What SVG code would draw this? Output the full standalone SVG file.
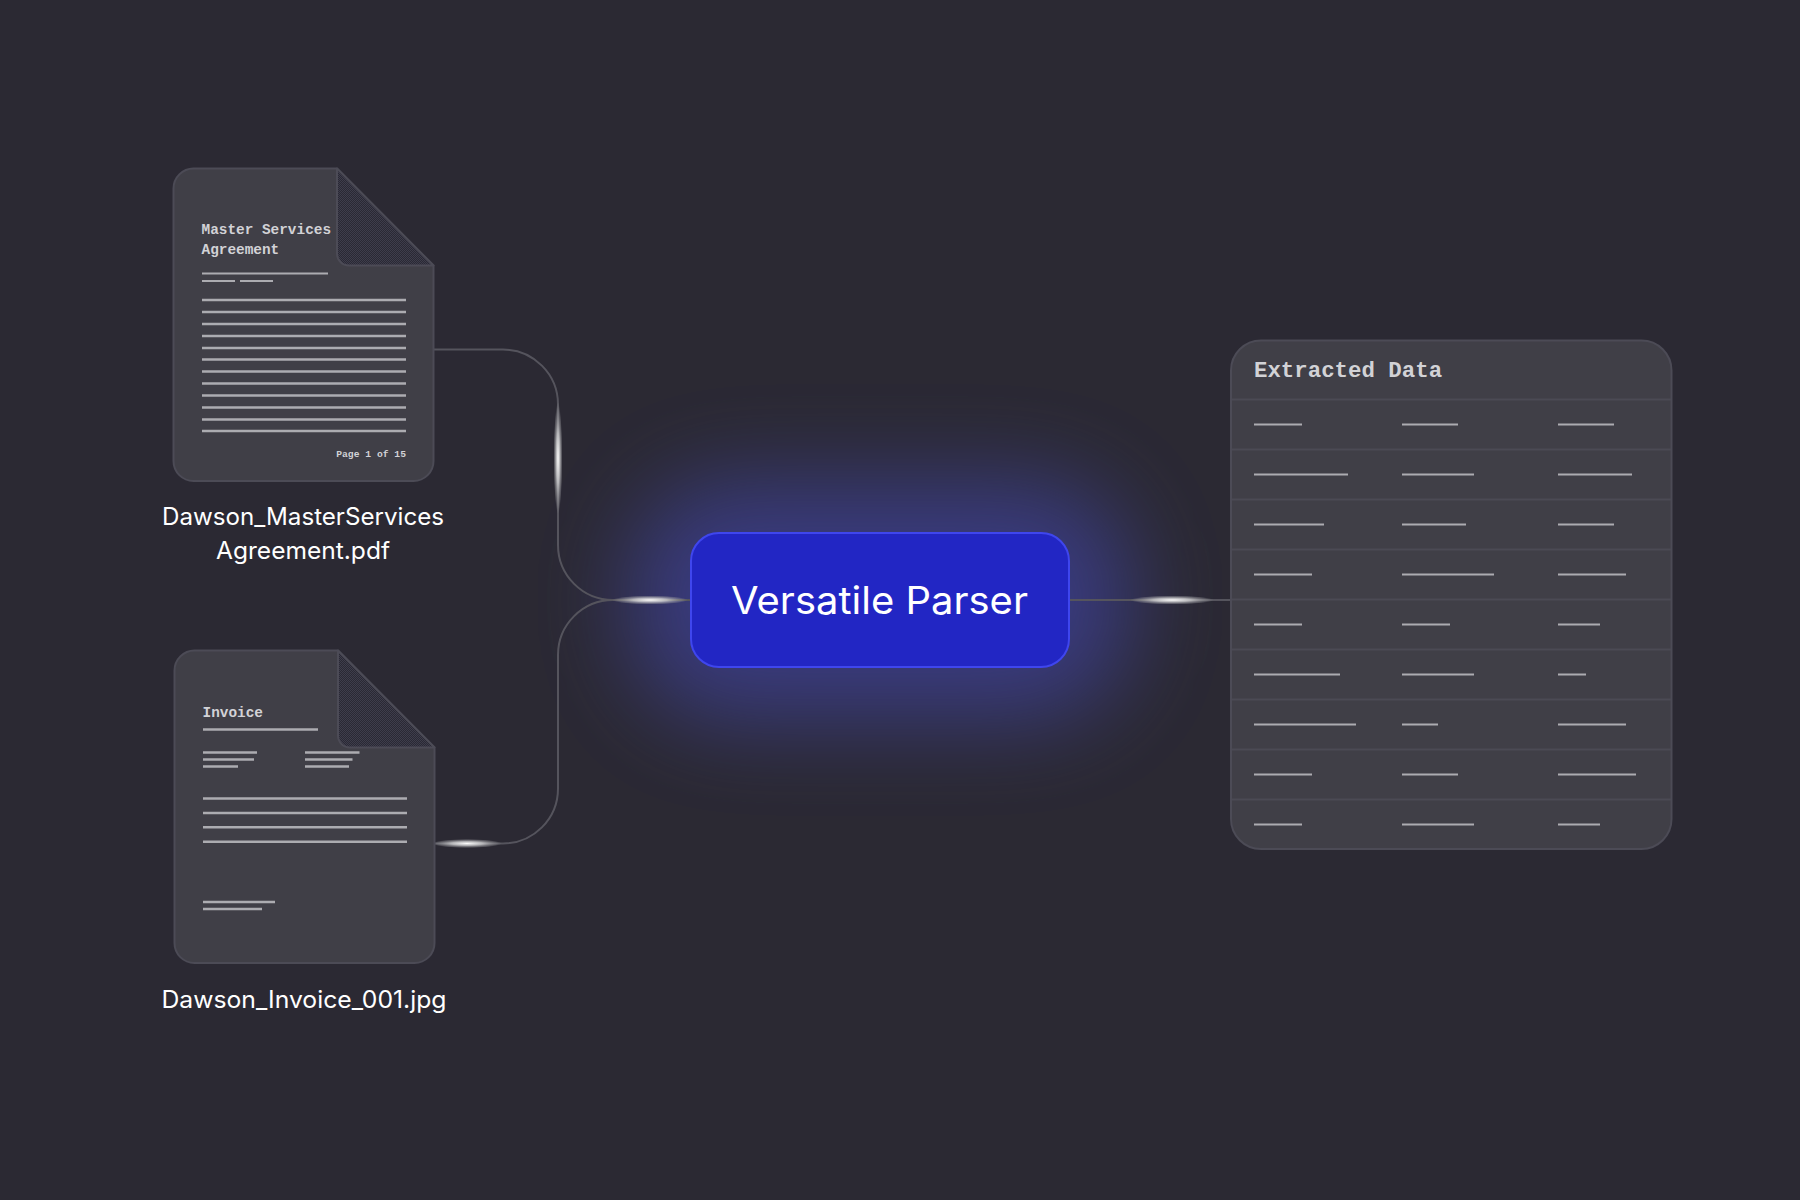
<svg xmlns="http://www.w3.org/2000/svg" width="1800" height="1200" viewBox="0 0 1800 1200">
<style>
.card{fill:#403f47;stroke:#4c4b56;stroke-width:2}
.fold{fill:url(#dither);stroke:#4c4b56;stroke-width:2;stroke-linejoin:round}
.ln{stroke:#acacb1;stroke-width:2.4;fill:none}
.tl{stroke:#acacb1;stroke-width:2;fill:none}
.row{stroke:#4b4a54;stroke-width:2;fill:none}
.mono{font-family:"Liberation Mono","DejaVu Sans Mono",monospace;fill:#d2d2d6;font-weight:700}
.lab{font-family:Inter,"Liberation Sans",sans-serif;fill:#fff;font-size:24px;text-anchor:middle}
.conn{fill:none;stroke:#55545d;stroke-width:2}
</style>
<defs>
<pattern id="dither" width="2" height="2" patternUnits="userSpaceOnUse">
<rect width="2" height="2" fill="#2a2934"/>
<rect width="1" height="1" fill="#3e3d4c"/>
<rect x="1" y="1" width="1" height="1" fill="#3e3d4c"/>
</pattern>
<radialGradient id="spark">
<stop offset="0" stop-color="#fff" stop-opacity=".98"/>
<stop offset=".45" stop-color="#d0d0d2" stop-opacity=".8"/>
<stop offset=".85" stop-color="#9a9a9e" stop-opacity=".35"/>
<stop offset="1" stop-color="#8a8a90" stop-opacity="0"/>
</radialGradient>
<filter id="blur" x="-50%" y="-100%" width="200%" height="300%"><feGaussianBlur stdDeviation="46"/></filter>
</defs>
<rect width="1800" height="1200" fill="#2b2933"/>

<g id="parser-glow"><rect x="630" y="480" width="500" height="240" rx="100" fill="#4a4fd0" opacity=".48" filter="url(#blur)"/></g>

<g id="connectors">
<path class="conn" d="M433.500 349.500H503A55 55 0 0 1 558 404.500V545A55 55 0 0 0 613 600H690"/>
<path class="conn" d="M434.500 843.500H503A55 55 0 0 0 558 788.500V655A55 55 0 0 1 613 600"/>
<path class="conn" d="M1069 600H1231"/>
<ellipse cx="558" cy="458" rx="4.500" ry="56" fill="url(#spark)"/>
<ellipse cx="650" cy="600" rx="38" ry="4.500" fill="url(#spark)"/>
<ellipse cx="1172" cy="600" rx="42" ry="4.500" fill="url(#spark)"/>
<ellipse cx="467" cy="843.500" rx="35" ry="4.500" fill="url(#spark)"/>
</g>

<g id="doc-msa">
<path class="card" d="M193.500 168.500H337L433.500 265.500V461A20 20 0 0 1 413.500 481H193.500A20 20 0 0 1 173.500 461V188.500A20 20 0 0 1 193.500 168.500Z"/>
<path class="fold" d="M337 168.500L433.500 265.500H349A12 12 0 0 1 337 253.500Z"/>
<text class="mono" x="201.500" y="234" font-size="14.400">Master Services</text>
<text class="mono" x="201.500" y="254" font-size="14.400">Agreement</text>
<path class="tl" d="M202 273.500H328M202 281H235M240 281H273"/>
<path class="ln" d="M202 300H406M202 312H406M202 324H406M202 336H406M202 348H406M202 359.500H406M202 371.500H406M202 383.500H406M202 395.500H406M202 407.500H406M202 419.500H406M202 431H406"/>
<text class="mono" x="406" y="457" font-size="9.700" text-anchor="end">Page 1 of 15</text>
<text class="lab" x="303" y="525" textLength="282" lengthAdjust="spacingAndGlyphs">Dawson_MasterServices</text>
<text class="lab" x="303" y="559" textLength="174" lengthAdjust="spacingAndGlyphs">Agreement.pdf</text>
</g>

<g id="doc-invoice">
<path class="card" d="M194.500 650.500H338L434.500 747.500V943A20 20 0 0 1 414.500 963H194.500A20 20 0 0 1 174.500 943V670.500A20 20 0 0 1 194.500 650.500Z"/>
<path class="fold" d="M338 650.500L434.500 747.500H350A12 12 0 0 1 338 735.500Z"/>
<text class="mono" x="202.500" y="717" font-size="14.400">Invoice</text>
<path class="ln" d="M203 729.500H318M203 752.500H257M203 759.500H254M203 766.500H238M305 752.500H359.500M305 759.500H352.500M305 766.500H349M203 798.500H407M203 813H407M203 827.300H407M203 841.700H407M203 902H275M203 909H262"/>
<text class="lab" x="304" y="1008" textLength="285" lengthAdjust="spacingAndGlyphs">Dawson_Invoice_001.jpg</text>
</g>

<g id="parser">
<rect x="691" y="533" width="378" height="134" rx="28" fill="#2226c4" stroke="#3f46ee" stroke-width="2"/>
<text x="879.500" y="614" font-family="Inter,'Liberation Sans',sans-serif" font-size="38" fill="#fff" text-anchor="middle" textLength="297" lengthAdjust="spacingAndGlyphs">Versatile Parser</text>
</g>

<g id="extracted-data">
<rect class="card" x="1231" y="340.500" width="440.500" height="508.500" rx="30"/>
<text class="mono" x="1254" y="377" font-size="22.400">Extracted Data</text>
<path class="row" d="M1232 399.500H1671M1232 449.500H1671M1232 499.500H1671M1232 549.500H1671M1232 599.500H1671M1232 649.500H1671M1232 699.500H1671M1232 749.500H1671M1232 799.500H1671"/>
<path class="tl" d="M1254 424.500H1302M1402 424.500H1458M1558 424.500H1614
M1254 474.500H1348M1402 474.500H1474M1558 474.500H1632
M1254 524.500H1324M1402 524.500H1466M1558 524.500H1614
M1254 574.500H1312M1402 574.500H1494M1558 574.500H1626
M1254 624.500H1302M1402 624.500H1450M1558 624.500H1600
M1254 674.500H1340M1402 674.500H1474M1558 674.500H1586
M1254 724.500H1356M1402 724.500H1438M1558 724.500H1626
M1254 774.500H1312M1402 774.500H1458M1558 774.500H1636
M1254 824.500H1302M1402 824.500H1474M1558 824.500H1600"/>
</g>
</svg>
